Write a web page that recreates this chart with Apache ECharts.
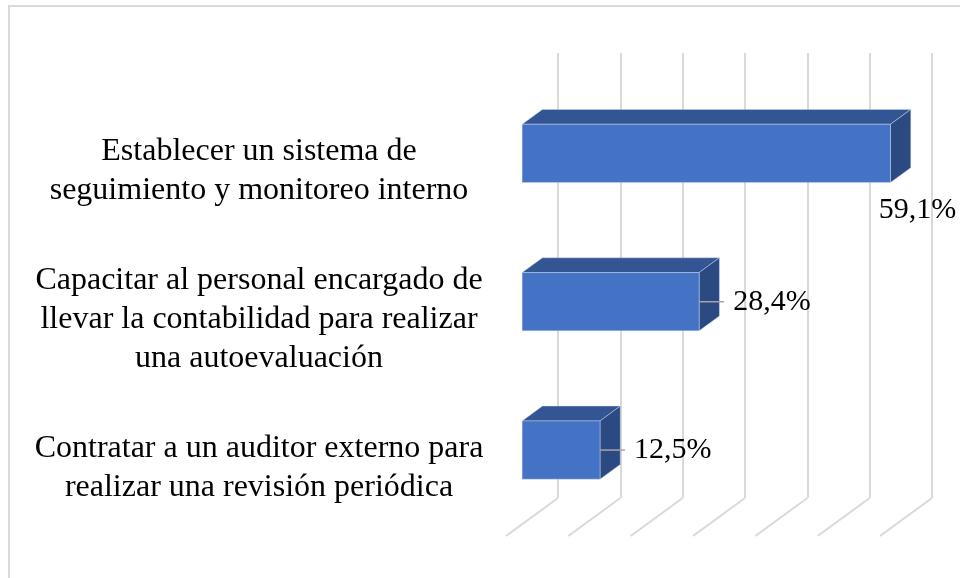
<!DOCTYPE html>
<html>
<head>
<meta charset="utf-8">
<script src="https://cdn.jsdelivr.net/npm/echarts@6/dist/echarts.min.js"></script>
<style>html,body{margin:0;padding:0;background:#fff}#c{width:960px;height:578px}</style>
</head>
<body>
<div id="c"></div>
<script>
// ---- data ----
const categories = [
  'Establecer un sistema de\nseguimiento y monitoreo interno',
  'Capacitar al personal encargado de\nllevar la contabilidad para realizar\nuna autoevaluación',
  'Contratar a un auditor externo para\nrealizar una revisión periódica'
];
const values = [59.1, 28.4, 12.5];
const xTicks = [0, 10, 20, 30, 40, 50, 60];

// ---- 3D geometry (style) ----
const DX = -52, DY = 38;          // back wall -> front edge of floor
const F_FRONT = 0.69, F_BACK = 0.30; // bar depth position
const BAR_FRAC = 0.393;
const FONT = '"Liberation Serif", "Times New Roman", serif';
const W = 960;

const chart = echarts.init(document.getElementById('c'), null, {renderer: 'canvas'});

function fmt(v) { return v.toFixed(1).replace('.', ',') + '%'; }

function renderBar(params, api) {
  const v = api.value(0), cat = api.value(1);
  const p0 = api.coord([0, cat]);
  const p1 = api.coord([v, cat]);
  const band = api.size([0, 1])[1];
  const h = band * BAR_FRAC;
  const fx = DX * F_FRONT, fy = DY * F_FRONT;
  const ox = -DX * (F_FRONT - F_BACK), oy = -DY * (F_FRONT - F_BACK);
  const x0 = p0[0] + fx, x1 = p1[0] + fx;
  const yc = p0[1] + fy;
  const top = yc - h / 2, bot = yc + h / 2;
  const edge = {stroke: 'rgba(210,222,245,0.55)', lineWidth: 0.8};
  const children = [
    {type: 'polygon', shape: {points: [[x0, top], [x1, top], [x1 + ox, top + oy], [x0 + ox, top + oy]]},
     style: Object.assign({fill: '#335594'}, edge)},
    {type: 'polygon', shape: {points: [[x1, top], [x1 + ox, top + oy], [x1 + ox, bot + oy], [x1, bot]]},
     style: Object.assign({fill: '#2b4a82'}, edge)},
    {type: 'rect', shape: {x: x0, y: top, width: x1 - x0, height: h},
     style: Object.assign({fill: '#4472c4'}, edge)}
  ];
  const txt = fmt(v);
  const font = '30px ' + FONT;
  const tw = echarts.format.getTextRect ? echarts.format.getTextRect(txt, font).width : 78;
  if (x1 + 35 + tw < W) {
    children.push({type: 'line', shape: {x1: x1, y1: yc, x2: x1 + 25, y2: yc},
      style: {stroke: '#a6a6a6', lineWidth: 1.5}});
    children.push({type: 'text', style: {text: txt, x: x1 + 34, y: yc, font: font,
      fill: '#000', textAlign: 'left', textVerticalAlign: 'middle'}});
  } else {
    children.push({type: 'text', style: {text: txt, x: x1 + 27, y: bot + 28, font: font,
      fill: '#000', textAlign: 'center', textVerticalAlign: 'middle'}});
  }
  return {type: 'group', children: children};
}

function renderFloor(params, api) {
  const cs = params.coordSys;
  const x = api.coord([api.value(0), 0])[0];
  const yb = cs.y + cs.height;
  return {type: 'line', shape: {x1: x, y1: yb, x2: x + DX, y2: yb + DY},
    style: {stroke: '#d9d9d9', lineWidth: 2}};
}

chart.setOption({
  animation: false,
  backgroundColor: '#fff',
  graphic: [{type: 'rect', shape: {x: 9, y: 6, width: 1000, height: 1000},
    style: {fill: 'none', stroke: '#d9d9d9', lineWidth: 2}, z: -10}],
  grid: [
    {left: 558, right: 28, top: 53, bottom: 80},
    {left: 506, right: 80, top: 97, bottom: 36}
  ],
  xAxis: [
    {type: 'value', gridIndex: 0, min: 0, max: 60, interval: 10,
     axisLine: {show: false}, axisTick: {show: false}, axisLabel: {show: false},
     splitLine: {show: true, lineStyle: {color: '#d9d9d9', width: 2}}},
    {type: 'value', gridIndex: 1, min: 0, max: 60, interval: 10, show: false}
  ],
  yAxis: [
    {type: 'category', gridIndex: 0, data: categories, inverse: true, show: false},
    {type: 'category', gridIndex: 1, data: categories, inverse: true,
     axisLine: {show: false}, axisTick: {show: false}, splitLine: {show: false},
     axisLabel: {show: true, align: 'center', margin: 247, fontFamily: FONT,
       fontSize: 32, lineHeight: 39, color: '#000'}}
  ],
  series: [
    {type: 'custom', xAxisIndex: 0, yAxisIndex: 0, z: 1, silent: true,
     data: xTicks.map(t => [t, 0]), encode: {x: 0, y: 1}, renderItem: renderFloor},
    {type: 'custom', xAxisIndex: 0, yAxisIndex: 0, z: 3, silent: true,
     data: values.map((v, i) => [v, i]), encode: {x: 0, y: 1}, renderItem: renderBar}
  ]
});
</script>
</body>
</html>
